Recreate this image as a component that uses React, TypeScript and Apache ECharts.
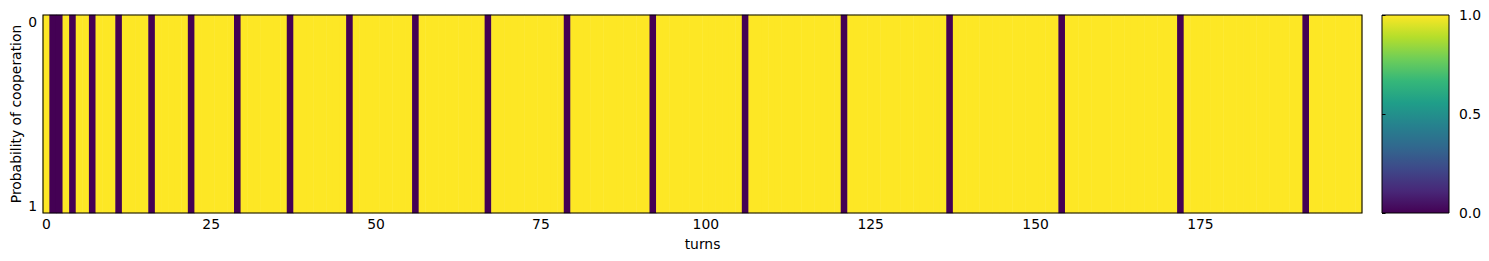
import { useEffect, useRef } from "react";
import * as echarts from "echarts";

const TURN_COUNT = 200;
const turns: string[] = Array.from({ length: TURN_COUNT }, (_, i) => String(i));
// turns on which the player defected (purple columns)
const defectionTurns = [1, 2, 4, 7, 11, 16, 22, 29, 37, 46, 56, 67, 79, 92, 106, 121, 137, 154, 172, 191];
const cooperation: number[] = turns.map((_, i) => (defectionTurns.includes(i) ? 0 : 1));
const rowLabels = ["0"];
const colorbarTicks = [0, 0.5, 1];
const viridis = [
  "#440154", "#482878", "#3e4989", "#31688e", "#26828e",
  "#1f9e89", "#35b779", "#6ece58", "#b5de2b", "#fde725",
];

const FONT = "DejaVu Sans";
const FS = 13.9;

export default function App() {
  const ref = useRef<HTMLDivElement>(null);
  useEffect(() => {
    document.body.style.margin = "0";
    if (!ref.current) return;
    const chart = echarts.init(ref.current, null, { renderer: "svg" });
    const txt = { fontFamily: FONT, fontSize: FS, color: "#000" };
    const main = { left: 43, top: 15, width: 1319, height: 198 };
    const cb = { left: 1382, top: 15, width: 67, height: 198 };
    const stops = viridis.map((c, i) => ({ offset: 1 - i / (viridis.length - 1), color: c })).reverse();
    chart.setOption({
      animation: false,
      backgroundColor: "#fff",
      grid: [
        { ...main, show: false, containLabel: false, outerBoundsMode: "none" },
        {
          ...cb,
          show: true,
          containLabel: false,
          outerBoundsMode: "none",
          backgroundColor: new echarts.graphic.LinearGradient(0, 0, 0, 1, stops),
          borderColor: "#000",
          borderWidth: 1,
        },
      ],
      xAxis: [
        {
          type: "category",
          gridIndex: 0,
          data: turns,
          axisLine: { show: false },
          axisTick: { show: false },
          splitLine: { show: false },
          axisLabel: { ...txt, interval: 24, margin: 4 },
          name: "turns",
          nameLocation: "middle",
          nameGap: 24,
          nameMoveOverlap: false,
          nameTextStyle: txt,
        },
        { type: "value", gridIndex: 1, show: false, min: 0, max: 1 },
      ],
      yAxis: [
        { type: "category", gridIndex: 0, data: rowLabels, show: false, position: "right" },
        {
          type: "value",
          gridIndex: 0,
          position: "left",
          min: 0,
          max: 1,
          interval: 1,
          inverse: true,
          axisLine: { show: false },
          axisTick: { show: false },
          splitLine: { show: false },
          axisLabel: {
            ...txt,
            margin: 6,
            verticalAlignMinLabel: "top",
            verticalAlignMaxLabel: "bottom",
          },
          name: "Probability of cooperation",
          nameLocation: "middle",
          nameGap: 20,
          nameRotate: 90,
          nameMoveOverlap: false,
          nameTextStyle: txt,
        },
        {
          type: "value",
          gridIndex: 1,
          position: "right",
          min: colorbarTicks[0],
          max: colorbarTicks[colorbarTicks.length - 1],
          interval: 0.5,
          axisLine: { show: false },
          axisTick: { show: true, length: 3.5, lineStyle: { color: "#000", width: 1 } },
          splitLine: { show: false },
          axisLabel: { ...txt, margin: 10, formatter: (v: number) => v.toFixed(1) },
        },
      ],
      visualMap: {
        show: false,
        min: 0,
        max: 1,
        dimension: 2,
        seriesIndex: 0,
        inRange: { color: viridis },
      },
      graphic: [
        {
          type: "rect",
          z: 100,
          shape: { x: main.left, y: main.top, width: main.width, height: main.height },
          style: { fill: "none", stroke: "#000", lineWidth: 1.1 },
        },
      ],
      series: [
        {
          type: "heatmap",
          xAxisIndex: 0,
          yAxisIndex: 0,
          data: cooperation.map((v, i) => [i, 0, v]),
          itemStyle: { borderWidth: 0 },
          emphasis: { disabled: true },
        },
      ],
    });
    return () => chart.dispose();
  }, []);
  return <div ref={ref} style={{ width: 1489, height: 261 }} />;
}
